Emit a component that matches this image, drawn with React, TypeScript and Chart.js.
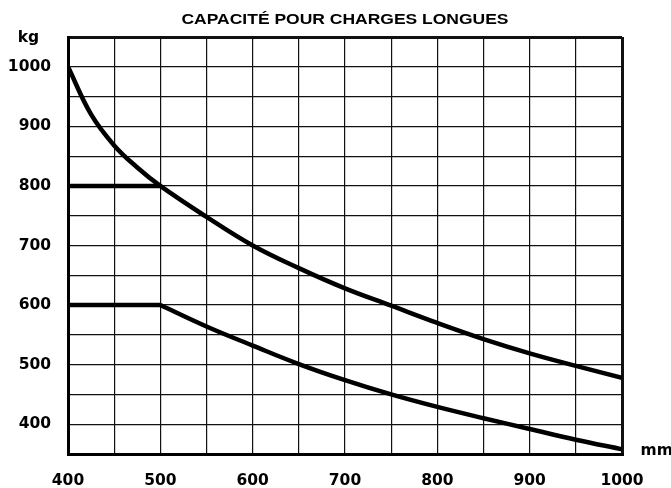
import React, { useEffect, useRef } from "react";
import { Chart, registerables } from "chart.js";

Chart.register(...registerables);

const titleText = "CAPACITÉ POUR CHARGES LONGUES";
const yUnit = "kg";
const xUnit = "mm";

const upperX = [400, 425, 450, 475, 500, 550, 600, 650, 700, 750, 800, 850, 900, 950, 1000];
const upperY = [1000, 920, 868, 831, 800, 748, 700, 662, 628, 599, 570, 543, 519, 498, 478];

const upperFlatX = [400, 500];
const upperFlatY = [800, 800];

const lowerFlatX = [400, 500];
const lowerFlatY = [600, 600];

const lowerX = [500, 550, 600, 650, 700, 750, 800, 850, 900, 950, 1000];
const lowerY = [600, 564, 532, 501, 474, 450, 429, 410, 392, 374, 358];

const xMin = 400;
const xMax = 1000;
const yMin = 350;
const yMax = 1050;
const gridStep = 50;
const labelStep = 100;
const yLabelMin = 400;
const yLabelMax = 1000;

const toPoints = (xs: number[], ys: number[]) => xs.map((x, i) => ({ x, y: ys[i] }));

const textPlugin = {
  id: "extraText",
  afterDraw(chart: any) {
    const ctx = chart.ctx as CanvasRenderingContext2D;
    const area = chart.chartArea;
    ctx.save();
    ctx.fillStyle = "#000";
    ctx.font = 'bold 14.5px "Liberation Sans", Arial, sans-serif';
    ctx.textBaseline = "alphabetic";
    ctx.textAlign = "center";
    const w = ctx.measureText(titleText).width;
    const target = 327;
    const sx = target / w;
    const cx = (area.left + area.right) / 2;
    ctx.save();
    ctx.translate(cx, 23.5);
    ctx.scale(sx, 1);
    ctx.fillText(titleText, 0, 0);
    ctx.restore();

    ctx.font = 'bold 15.5px "DejaVu Sans", sans-serif';
    ctx.textAlign = "center";
    ctx.fillText(yUnit, 28.5, 41.5);
    ctx.textAlign = "left";
    ctx.fillText(xUnit, 640.5, 455);
    ctx.restore();
  },
};

export default function App() {
  const ref = useRef<HTMLCanvasElement | null>(null);

  useEffect(() => {
    if (!ref.current) return;
    const lineStyle = {
      borderColor: "#000",
      borderWidth: 4.5,
      pointRadius: 0,
      fill: false,
      tension: 0.4,
    };
    const edgeWidth = (v: number, a: number, b: number) => (v === a || v === b ? 3 : 1.2);
    const chart = new Chart(ref.current, {
      type: "line",
      data: {
        datasets: [
          { label: "upper", data: toPoints(upperX, upperY), ...lineStyle },
          { label: "upperFlat", data: toPoints(upperFlatX, upperFlatY), ...lineStyle, tension: 0 },
          { label: "lowerFlat", data: toPoints(lowerFlatX, lowerFlatY), ...lineStyle, tension: 0 },
          { label: "lower", data: toPoints(lowerX, lowerY), ...lineStyle },
        ],
      },
      options: {
        animation: false,
        responsive: false,
        layout: { padding: { top: 37, left: 8, right: 49, bottom: 0 } },
        plugins: {
          legend: { display: false },
          title: { display: false },
          tooltip: { enabled: false },
        },
        scales: {
          x: {
            type: "linear",
            min: xMin,
            max: xMax,
            afterFit: (s: any) => {
              s.height = 34;
            },
            ticks: {
              stepSize: gridStep,
              autoSkip: false,
              maxRotation: 0,
              padding: 17.5,
              color: "#000",
              font: { family: '"DejaVu Sans", sans-serif', size: 15.5, weight: "bold" },
              callback: (v: any) => (Number(v) % labelStep === 0 ? String(v) : ""),
            },
            grid: {
              color: "#111",
              lineWidth: (c: any) => edgeWidth(c.tick?.value, xMin, xMax),
              drawTicks: false,
            },
            border: { display: true, color: "#000", width: 3 },
          },
          y: {
            type: "linear",
            min: yMin,
            max: yMax,
            afterFit: (s: any) => {
              s.width = 60;
            },
            ticks: {
              stepSize: gridStep,
              autoSkip: false,
              padding: 17,
              color: "#000",
              font: { family: '"DejaVu Sans", sans-serif', size: 15.5, weight: "bold" },
              callback: (v: any) => {
                const n = Number(v);
                return n % labelStep === 0 && n >= yLabelMin && n <= yLabelMax ? String(n) : "";
              },
            },
            grid: {
              color: "#111",
              lineWidth: (c: any) => edgeWidth(c.tick?.value, yMin, yMax),
              drawTicks: false,
            },
            border: { display: true, color: "#000", width: 3 },
          },
        },
      },
      plugins: [textPlugin],
    });
    return () => chart.destroy();
  }, []);

  return (
    <div style={{ position: "fixed", left: 0, top: 0, width: 671, height: 488, background: "#fff" }}>
      <canvas ref={ref} width={671} height={488} style={{ display: "block" }} />
    </div>
  );
}
